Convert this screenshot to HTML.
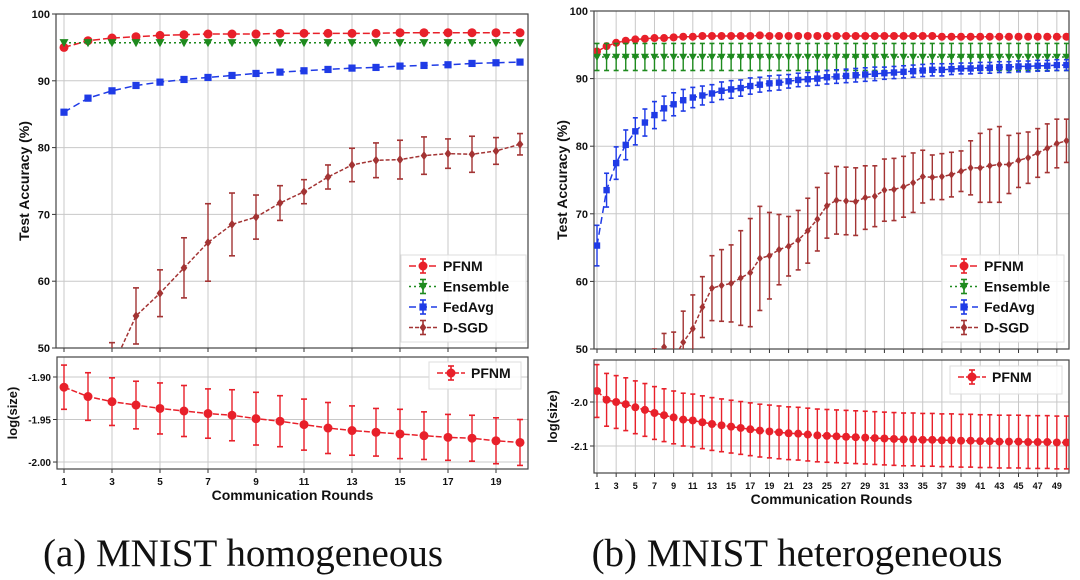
<!DOCTYPE html>
<html><head><meta charset="utf-8">
<style>
body{margin:0;background:#fff;width:1080px;height:580px;overflow:hidden;}
svg{display:block;font-family:"Liberation Sans",sans-serif;}
.cap{font-family:"Liberation Serif",serif;font-size:39px;fill:#111;}
</style></head>
<body>
<svg id="fig" width="1080" height="580" viewBox="0 0 1080 580">
<text class="cap" x="243" y="566" text-anchor="middle">(a) MNIST homogeneous</text>
<text class="cap" x="797" y="566" text-anchor="middle">(b) MNIST heterogeneous</text>
</svg>
<script>
// ---- data: panel a (homogeneous, 20 rounds)
const roundsA = [1,2,3,4,5,6,7,8,9,10,11,12,13,14,15,16,17,18,19,20];
const pfnmA = [95.0,96.0,96.4,96.6,96.8,96.9,97.0,97.0,97.0,97.1,97.1,97.1,97.1,97.1,97.2,97.2,97.2,97.2,97.2,97.2];
const ensA = [95.7,95.7,95.7,95.7,95.7,95.7,95.7,95.7,95.7,95.7,95.7,95.7,95.7,95.7,95.7,95.7,95.7,95.7,95.7,95.7];
const fedA = [85.3,87.4,88.5,89.3,89.8,90.2,90.5,90.8,91.1,91.3,91.5,91.7,91.9,92.0,92.2,92.3,92.4,92.6,92.7,92.8];
const dsgdA = [40,44,47,54.8,58.2,62.0,65.8,68.5,69.6,71.7,73.4,75.6,77.4,78.1,78.2,78.8,79.1,79.0,79.5,80.5];
const dsgdErrA = [3,3,3.8,4.2,3.5,4.5,5.8,4.7,3.3,2.6,1.8,1.8,2.5,2.6,2.9,2.8,2.2,2.7,2.0,1.6];
const sizeA = [-1.912,-1.923,-1.929,-1.933,-1.937,-1.940,-1.943,-1.945,-1.949,-1.952,-1.956,-1.960,-1.963,-1.965,-1.967,-1.969,-1.971,-1.972,-1.975,-1.977];
const sizeErrA = [0.026,0.028,0.028,0.028,0.030,0.030,0.029,0.030,0.031,0.030,0.030,0.030,0.029,0.028,0.029,0.028,0.027,0.027,0.027,0.027];
// ---- data: panel b (heterogeneous, 50 rounds)
const roundsB = Array.from({length:50},(_,i)=>i+1);
const pfnmB = [94.0,94.8,95.3,95.6,95.8,95.9,96.0,96.0,96.1,96.2,96.2,96.3,96.3,96.3,96.3,96.3,96.3,96.4,96.3,96.3,96.3,96.3,96.3,96.3,96.3,96.3,96.3,96.3,96.3,96.3,96.3,96.3,96.3,96.3,96.3,96.3,96.2,96.2,96.2,96.2,96.2,96.2,96.2,96.2,96.2,96.2,96.2,96.2,96.2,96.2];
const ensB = Array(50).fill(93.2);
const ensErrB = Array(50).fill(2.0);
const fedB = [65.3,73.5,77.5,80.2,82.2,83.5,84.6,85.6,86.2,86.8,87.2,87.5,87.8,88.2,88.4,88.6,88.9,89.1,89.3,89.4,89.6,89.8,89.9,90.0,90.2,90.3,90.4,90.5,90.6,90.7,90.8,90.9,91.0,91.1,91.2,91.3,91.3,91.4,91.5,91.5,91.6,91.6,91.7,91.7,91.8,91.8,91.9,91.9,92.0,92.0];
const fedErrB = [3,2.5,2.4,2.2,2,2,2,1.8,1.7,1.6,1.5,1.4,1.3,1.3,1.3,1.2,1.2,1.1,1.1,1.1,1,1,1,1,1,1,1,1,1,1,0.9,0.9,0.9,0.9,0.9,0.9,0.9,0.8,0.8,0.8,0.8,0.8,0.8,0.8,0.8,0.8,0.8,0.8,0.8,0.8];
const dsgdB = [30,33,36,39,42,45,47,50.3,48.5,51.0,53.0,56.2,59.0,59.4,59.7,60.5,61.3,63.4,63.8,64.7,65.2,66.1,67.5,69.2,71.2,72.0,71.9,71.8,72.4,72.6,73.5,73.6,74.0,74.6,75.5,75.4,75.5,75.8,76.3,76.8,76.8,77.1,77.3,77.3,77.9,78.3,79.0,79.7,80.4,80.8];
const dsgdErrB = [3,3,3,3,3,3,3,2,4,4.6,5.0,4.5,4.8,5.3,5.7,7,8,7.7,6.4,5.2,4.4,4.4,4.8,4.7,4.8,5,5,5,4.7,4.5,4.6,4.6,4.5,4.4,3.9,3.3,3.4,3.3,3.0,4.0,5.1,5.4,5.6,4.3,4.0,3.8,3.6,3.6,3.6,3.2];
const sizeB = [-1.975,-1.995,-2.0,-2.005,-2.012,-2.018,-2.025,-2.03,-2.035,-2.04,-2.042,-2.046,-2.05,-2.053,-2.056,-2.059,-2.062,-2.065,-2.067,-2.069,-2.071,-2.072,-2.074,-2.076,-2.077,-2.078,-2.079,-2.080,-2.081,-2.082,-2.083,-2.084,-2.085,-2.085,-2.086,-2.086,-2.087,-2.087,-2.088,-2.088,-2.089,-2.089,-2.09,-2.09,-2.09,-2.091,-2.091,-2.091,-2.092,-2.092];
const sizeErrB = Array(50).fill(0.06);
const accTicks = [50,60,70,80,90,100];
const sizeTicksA = [-1.90,-1.95,-2.00];
const sizeTicksB = [-2.0,-2.1];

const NS="http://www.w3.org/2000/svg";
const svg=document.getElementById('fig');
function mk(tag,attrs,parent){const e=document.createElementNS(NS,tag);for(const k in attrs)e.setAttribute(k,attrs[k]);(parent||svg).appendChild(e);return e;}
const COL={pfnm:'#e8202a',ens:'#1e8a1e',fed:'#1f3be6',dsgd:'#a33434'};

function panel(o){
  const g=mk('g',{});
  
  
  const sx=r=>o.x0+(r-o.r0)*o.step;
  const sy=v=>o.y1-(v-o.vmin)/(o.vmax-o.vmin)*(o.y1-o.y0);
  const clip='c'+o.name;
  const cp=mk('clipPath',{id:clip},g);mk('rect',{x:o.fx0,y:o.y0,width:o.fx1-o.fx0,height:o.y1-o.y0},cp);
  for(let r=1;r<=o.nr;r+=2){const gl=mk('line',{x1:sx(r),x2:sx(r),y1:o.y0,y2:o.y1,stroke:'#c8c8c8','stroke-width':1},g);
    
    mk('line',{x1:sx(r),x2:sx(r),y1:o.y1,y2:o.y1+4,stroke:'#333'},g);
    if(o.xlabels){const t=mk('text',{x:sx(r),y:o.y1+16,'text-anchor':'middle','font-size':o.xfs,'font-weight':'bold',fill:'#111'},g);t.textContent=r;
      }}
  for(const v of o.ticks){const y=sy(v);mk('line',{x1:o.fx0,x2:o.fx1,y1:y,y2:y,stroke:'#c8c8c8'},g);
    mk('line',{x1:o.fx0-4,x2:o.fx0,y1:y,y2:y,stroke:'#333'},g);
    const t=mk('text',{x:o.fx0-6,y:y+4,'text-anchor':'end','font-size':o.yfs,'font-weight':'bold',fill:'#111'},g);t.textContent=o.fmt(v);
    }
  const fr=mk('rect',{x:o.fx0,y:o.y0,width:o.fx1-o.fx0,height:o.y1-o.y0,fill:'none',stroke:'#444','stroke-width':1.2},g);
  
  const yl=mk('text',{x:0,y:0,transform:`translate(${o.ylx},${(o.y0+o.y1)/2}) rotate(-90)`,'text-anchor':'middle','font-size':o.ylfs,'font-weight':'bold',fill:'#111'},g);
  yl.textContent=o.ylabel;
  if(o.xtitle){const xt=mk('text',{x:(o.fx0+o.fx1)/2,y:o.y1+31,'text-anchor':'middle','font-size':14,'font-weight':'bold',fill:'#111'},g);
    xt.textContent='Communication Rounds';}
  const pg=mk('g',{'clip-path':`url(#${clip})`},g);
  for(const s of o.series){
    const sg=mk('g',{},pg);
    
    
    const pts=s.vals.map((v,i)=>sx(o.rounds[i])+','+sy(v)).join(' ');
    mk('polyline',{points:pts,fill:'none',stroke:s.col,'stroke-width':1.5,'stroke-dasharray':s.dash},sg);
    s.vals.forEach((v,i)=>{const x=sx(o.rounds[i]);const e=s.err?s.err[i]:0;
      if(e>0){mk('line',{x1:x,x2:x,y1:sy(v-e),y2:sy(v+e),stroke:s.col,'stroke-width':1.4},sg);
        for(const w of [v-e,v+e])mk('line',{x1:x-o.cap,x2:x+o.cap,y1:sy(w),y2:sy(w),stroke:s.col,'stroke-width':1.6},sg);}
      const m=marker(s.mk,x,sy(v),o.ms,s.col,sg);
      
      
    });
  }
  const lg=mk('g',{},g);
  
  
  mk('rect',{x:o.lx,y:o.ly,width:o.lw,height:o.lh,fill:'#fff','fill-opacity':0.85,stroke:'#ddd'},lg);
  o.series.forEach((s,i)=>{const y=o.ly+11+i*20.5;const x=o.lx+8;
    const le=mk('g',{},lg);
    
    
    mk('line',{x1:x,x2:x+28,y1:y,y2:y,stroke:s.col,'stroke-width':1.5,'stroke-dasharray':s.dash},le);
    mk('line',{x1:x+14,x2:x+14,y1:y-7,y2:y+7,stroke:s.col,'stroke-width':1.6},le);
    mk('line',{x1:x+11,x2:x+17,y1:y-7,y2:y-7,stroke:s.col,'stroke-width':1.6},le);
    mk('line',{x1:x+11,x2:x+17,y1:y+7,y2:y+7,stroke:s.col,'stroke-width':1.6},le);
    marker(s.mk,x+14,y,4.5,s.col,le);
    const t=mk('text',{x:x+34,y:y+5,'font-size':14,'font-weight':'bold',fill:'#111'},le);t.textContent=s.label;});
}
function marker(type,x,y,r,col,p){
  if(type==='o')return mk('circle',{cx:x,cy:y,r:r,fill:col},p);
  if(type==='v')return mk('polygon',{points:`${x-r},${y-r*0.8} ${x+r},${y-r*0.8} ${x},${y+r}`,fill:col},p);
  if(type==='x')return mk('rect',{x:x-r*0.8,y:y-r*0.8,width:r*1.6,height:r*1.6,fill:col},p);
  return mk('polygon',{points:`${x},${y-r} ${x+r*0.75},${y} ${x},${y+r} ${x-r*0.75},${y}`,fill:col},p);
}
panel({name:'accuracy-panel-a',rounds:roundsA,nr:20,r0:1,x0:64,step:24,fx0:56,fx1:528,y0:14,y1:348,vmin:50,vmax:100,
  ticks:accTicks,fmt:v=>v,yfs:11,xfs:11,ylabel:'Test Accuracy (%)',ylx:29,ylfs:14,xlabels:false,xtitle:false,cap:3,ms:4.5,
  lx:401,ly:255,lw:125,lh:87,
  series:[{key:'pfnm',label:'PFNM',vals:pfnmA,err:null,col:COL.pfnm,mk:'o',dash:'7,3'},
          {key:'ensemble',label:'Ensemble',vals:ensA,err:null,col:COL.ens,mk:'v',dash:'2,3'},
          {key:'fedavg',label:'FedAvg',vals:fedA,err:null,col:COL.fed,mk:'x',dash:'7,4'},
          {key:'dsgd',label:'D-SGD',vals:dsgdA,err:dsgdErrA,col:COL.dsgd,mk:'d',dash:'4,2'}]});
panel({name:'size-panel-a',rounds:roundsA,nr:20,r0:1,x0:64,step:24,fx0:57,fx1:528,y0:357,y1:469,vmin:-2.0082,vmax:-1.8765,
  ticks:sizeTicksA,fmt:v=>v.toFixed(2),yfs:10,xfs:10,ylabel:'log(size)',ylx:17,ylfs:13,xlabels:true,xtitle:true,cap:3,ms:4.5,
  lx:429,ly:362,lw:92,lh:27,
  series:[{key:'pfnm-size',label:'PFNM',vals:sizeA,err:sizeErrA,col:COL.pfnm,mk:'o',dash:'6,2'}]});
panel({name:'accuracy-panel-b',rounds:roundsB,nr:50,r0:1,x0:597,step:9.58,fx0:594,fx1:1069,y0:11,y1:349,vmin:50,vmax:100,
  ticks:accTicks,fmt:v=>v,yfs:11,xfs:11,ylabel:'Test Accuracy (%)',ylx:567,ylfs:14,xlabels:false,xtitle:false,cap:2.5,ms:4,
  lx:942,ly:255,lw:122,lh:87,
  series:[{key:'pfnm',label:'PFNM',vals:pfnmB,err:null,col:COL.pfnm,mk:'o',dash:'7,3'},
          {key:'ensemble',label:'Ensemble',vals:ensB,err:ensErrB,col:COL.ens,mk:'v',dash:'2,3'},
          {key:'fedavg',label:'FedAvg',vals:fedB,err:fedErrB,col:COL.fed,mk:'x',dash:'7,4'},
          {key:'dsgd',label:'D-SGD',vals:dsgdB,err:dsgdErrB,col:COL.dsgd,mk:'d',dash:'4,2'}]});
panel({name:'size-panel-b',rounds:roundsB,nr:50,r0:1,x0:597,step:9.58,fx0:594,fx1:1069,y0:360,y1:473,vmin:-2.1614,vmax:-1.9045,
  ticks:sizeTicksB,fmt:v=>v.toFixed(1),yfs:10,xfs:9,ylabel:'log(size)',ylx:557,ylfs:13,xlabels:true,xtitle:true,cap:2.5,ms:4,
  lx:950,ly:366,lw:112,lh:28,
  series:[{key:'pfnm-size',label:'PFNM',vals:sizeB,err:sizeErrB,col:COL.pfnm,mk:'o',dash:'6,2'}]});
</script>
</body></html>
